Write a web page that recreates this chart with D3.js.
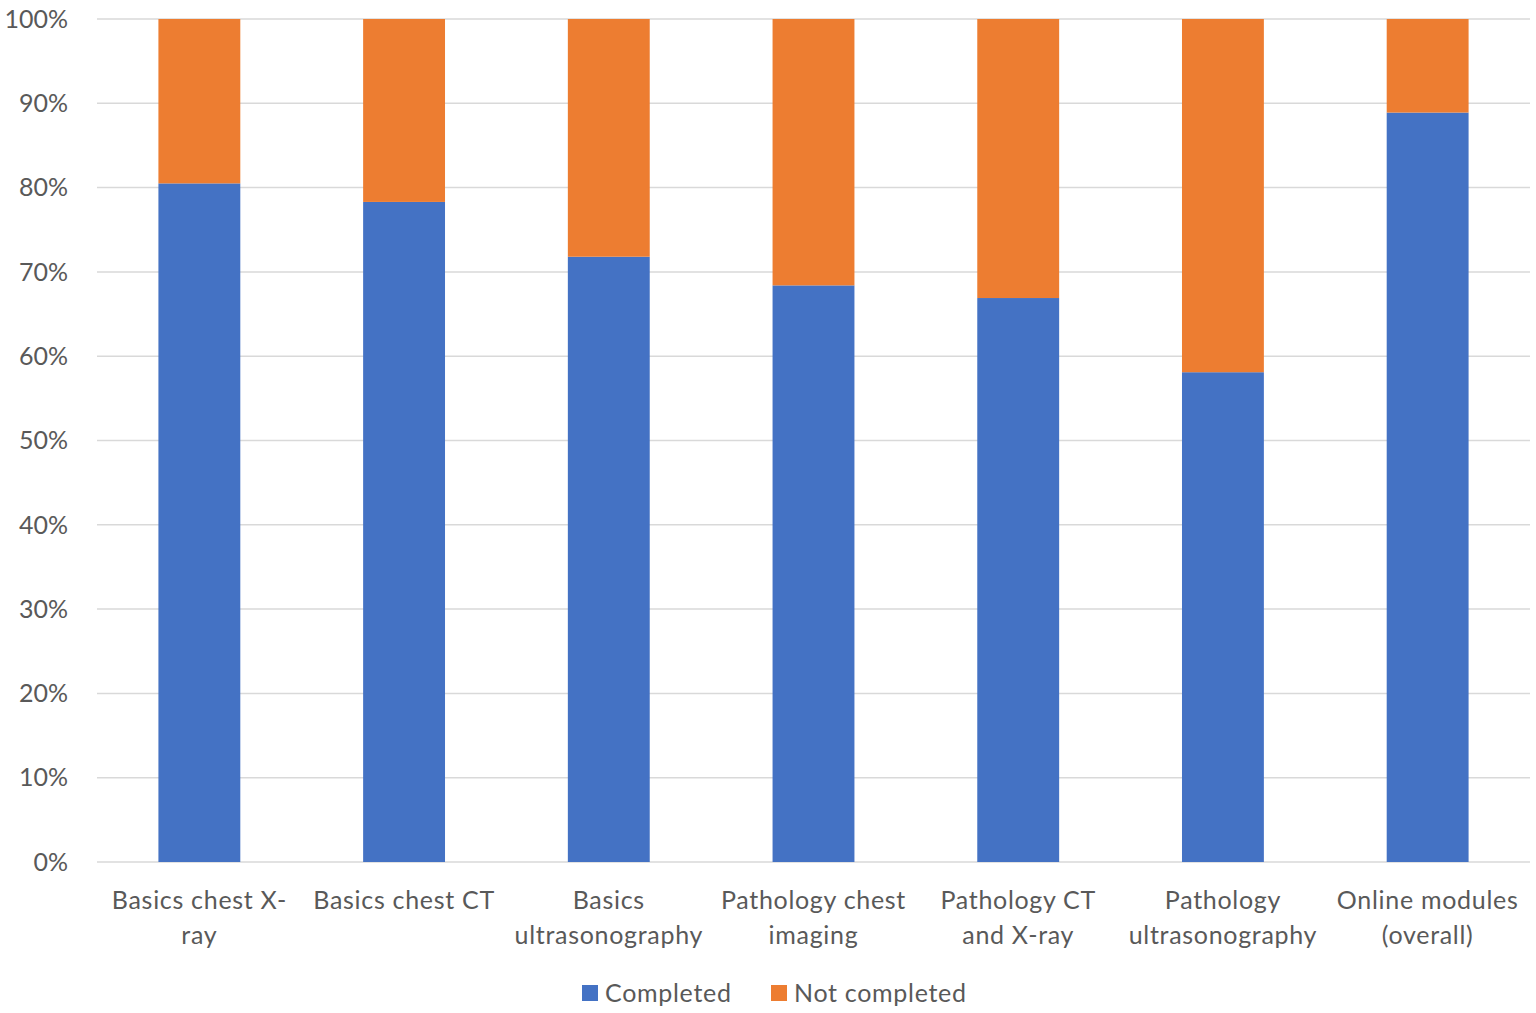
<!DOCTYPE html>
<html>
<head>
<meta charset="utf-8">
<script src="https://cdn.jsdelivr.net/npm/d3@7"></script>
<style>
	body { margin: 0; background: #fff; }
	text { font-family: Lato, "Open Sans", sans-serif; fill: #595959; }
	.wide { letter-spacing: 0.7px; }
</style>
</head>
<body>
<div class="chart"></div>
<script>
// data
var categories = [
	["Basics chest X-", "ray"],
	["Basics chest CT"],
	["Basics", "ultrasonography"],
	["Pathology chest", "imaging"],
	["Pathology CT", "and X-ray"],
	["Pathology", "ultrasonography"],
	["Online modules", "(overall)"]
];
var completed = [80.5, 78.3, 71.8, 68.4, 66.9, 58.1, 88.9];
var notCompleted = completed.map(function (v) { return 100 - v; });
var seriesNames = ["Completed", "Not completed"];
var seriesColors = ["#4472c4", "#ed7d31"];
var yTicks = [0, 10, 20, 30, 40, 50, 60, 70, 80, 90, 100];

var W = 1536, H = 1013;
var margin = { top: 19, right: 6, bottom: 151, left: 97 };
var width = W - margin.left - margin.right;
var height = H - margin.top - margin.bottom;

var svg = d3.select('.chart')
	.append('svg')
	.attr('width', W)
	.attr('height', H)
	.append('g')
	.attr('transform', 'translate(' + margin.left + ',' + margin.top + ')');

var x = d3.scaleBand()
	.domain(d3.range(categories.length))
	.range([0, width])
	.paddingInner(0.6)
	.paddingOuter(0.3);

var y = d3.scaleLinear()
	.domain([0, 100])
	.range([height, 0]);

// gridlines
svg.selectAll('.grid')
	.data(yTicks)
	.enter().append('line')
	.attr('x1', 0)
	.attr('x2', width)
	.attr('y1', function (d) { return y(d); })
	.attr('y2', function (d) { return y(d); })
	.attr('stroke', '#d9d9d9')
	.attr('stroke-width', 1.5);

// y labels
svg.selectAll('.ylab')
	.data(yTicks)
	.enter().append('text')
	.attr('x', -29)
	.attr('y', function (d) { return y(d); })
	.attr('dy', '0.35em')
	.attr('text-anchor', 'end')
	.style('font-size', '25px')
	.text(function (d) { return d + '%'; });

// stacked data
var rows = completed.map(function (c, i) { return { i: i, Completed: c, "Not completed": notCompleted[i] }; });
var stacked = d3.stack().keys(seriesNames)(rows);

svg.selectAll('.series')
	.data(stacked)
	.enter().append('g')
	.attr('fill', function (d, i) { return seriesColors[i]; })
	.selectAll('rect')
	.data(function (d) { return d; })
	.enter().append('rect')
	.attr('x', function (d) { return x(d.data.i); })
	.attr('width', x.bandwidth())
	.attr('y', function (d) { return y(d[1]); })
	.attr('height', function (d) { return y(d[0]) - y(d[1]); });

// category labels
var cat = svg.selectAll('.cat')
	.data(categories)
	.enter().append('text')
	.attr('class', 'wide')
	.attr('text-anchor', 'middle')
	.style('font-size', '25px')
	.attr('transform', function (d, i) {
		return 'translate(' + (x(i) + x.bandwidth() / 2) + ',' + (height + 47) + ')';
	});
cat.selectAll('tspan')
	.data(function (d) { return d; })
	.enter().append('tspan')
	.attr('x', 0)
	.attr('dy', function (d, j) { return j === 0 ? 0 : 35; })
	.text(function (d) { return d; });

// legend
var legend = svg.append('g')
	.attr('transform', 'translate(' + (582 - margin.left) + ',' + (992 - margin.top) + ')');
var legendX = [0, 189];
seriesNames.forEach(function (name, i) {
	var g = legend.append('g').attr('transform', 'translate(' + legendX[i] + ',0)');
	g.append('rect')
		.attr('x', 0)
		.attr('y', -7)
		.attr('width', 16)
		.attr('height', 16)
		.attr('fill', seriesColors[i]);
	g.append('text')
		.attr('class', 'wide')
		.attr('x', 23)
		.attr('y', 1)
		.attr('dy', '0.35em')
		.style('font-size', '25px')
		.text(name);
});
</script>
</body>
</html>
